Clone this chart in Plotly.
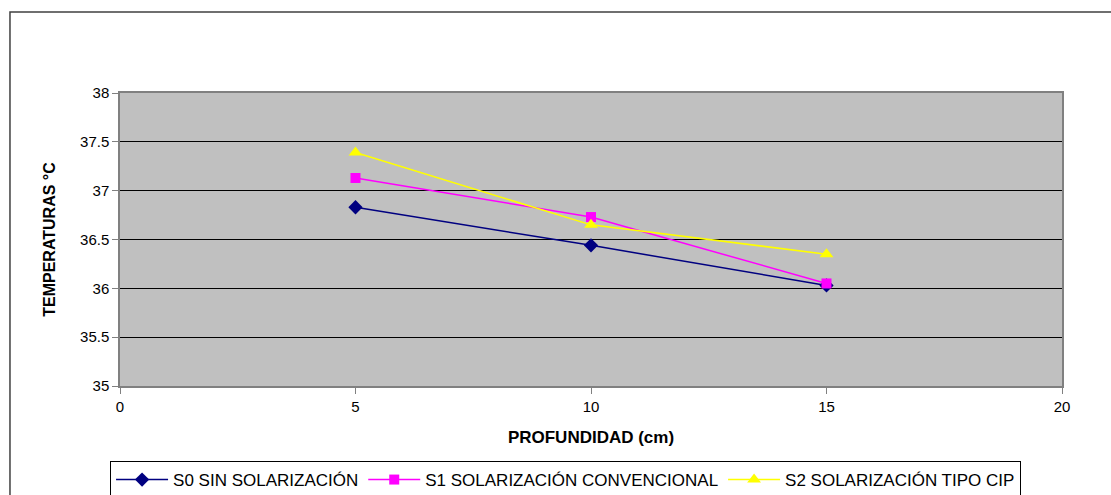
import plotly.graph_objects as go

profundidad = [5, 10, 15]
s0 = [36.83, 36.44, 36.03]
s1 = [37.13, 36.73, 36.05]
s2 = [37.39, 36.65, 36.35]
names = ["S0 SIN SOLARIZACIÓN", "S1 SOLARIZACIÓN CONVENCIONAL", "S2 SOLARIZACIÓN TIPO CIP"]
x_ticks = [0, 5, 10, 15, 20]
y_ticks = [35, 35.5, 36, 36.5, 37, 37.5, 38]

fig = go.Figure()
styles = [("#000080", "diamond", 11), ("#FF00FF", "square", 10), ("#FFFF00", "triangle-up", 12)]
for vals, name, (col, sym, sz) in zip([s0, s1, s2], names, styles):
    fig.add_trace(go.Scatter(x=profundidad, y=vals, name=name, mode="lines+markers",
                             line=dict(color=col, width=1.5),
                             marker=dict(color=col, symbol=sym, size=sz)))

fig.update_layout(
    width=1111, height=495,
    margin=dict(l=120, r=49, t=93, b=109, autoexpand=False),
    paper_bgcolor="white", plot_bgcolor="#C0C0C0",
    font=dict(family="Liberation Sans, Arial, sans-serif", size=15, color="black"),
    showlegend=True,
    legend=dict(orientation="h", x=0.473, xanchor="center", y=-0.256, yanchor="top",
                bordercolor="black", borderwidth=1, bgcolor="white",
                font=dict(size=17), itemwidth=52, tracegroupgap=0),
    xaxis=dict(range=[0, 20], tickvals=x_ticks, showgrid=False, zeroline=False,
               showline=True, linecolor="#808080", linewidth=1.5, mirror=True,
               ticks="outside", ticklen=6, tickcolor="#808080",
               title=dict(text="<b>PROFUNDIDAD (cm)</b>", font=dict(size=17), standoff=17)),
    yaxis=dict(range=[35, 38], tickvals=y_ticks, showgrid=True, gridcolor="black", gridwidth=1,
               zeroline=False, showline=True, linecolor="#808080", linewidth=1.5, mirror=True,
               ticks="outside", ticklen=6, tickcolor="#808080",
               title=dict(text="<b>TEMPERATURAS °C</b>", font=dict(size=16), standoff=20)),
)
fig.add_shape(type="rect", xref="paper", yref="paper", x0=-0.1168, x1=1.2, y0=-0.5, y1=1.2765,
              line=dict(color="#404040", width=1.5), fillcolor="rgba(0,0,0,0)", layer="below")
fig.write_html("out.html")
